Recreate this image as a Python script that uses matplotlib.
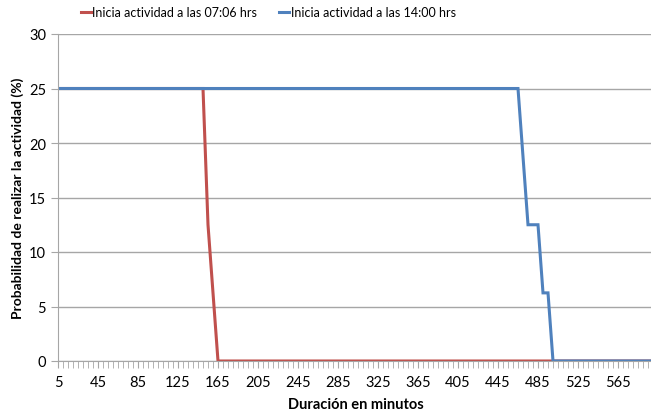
import numpy as np
import matplotlib.pyplot as plt

plt.rcParams['font.family'] = ['Lato', 'DejaVu Sans']

# duracion en minutos: 5, 10, ..., 600
minutos = list(range(5, 605, 5))

# cambios de la serie roja (07:06 hrs)
red_pts = {150: 25, 155: 12.5, 160: 6.25, 165: 0}
# cambios de la serie azul (14:00 hrs)
blue_pts = {465: 25, 470: 18.75, 475: 12.5, 480: 12.5, 485: 12.5,
            490: 6.25, 495: 6.25, 500: 0}

prob_0706 = []
prob_1400 = []
for m in minutos:
    if m < 150:
        prob_0706.append(25)
    elif m in red_pts:
        prob_0706.append(red_pts[m])
    else:
        prob_0706.append(0)
    if m < 465:
        prob_1400.append(25)
    elif m in blue_pts:
        prob_1400.append(blue_pts[m])
    else:
        prob_1400.append(0)

labels = ['Inicia actividad a las 07:06 hrs', 'Inicia actividad a las 14:00 hrs']
colors = ['#C0504D', '#4F81BD']

fig = plt.figure(figsize=(6.51, 4.14), dpi=100)
ax = fig.add_axes([58 / 651, 1 - 362 / 414, 595 / 651, 327 / 414])

x = np.arange(len(minutos))
ax.plot(x, prob_0706, color=colors[0], lw=2.2, label=labels[0], solid_joinstyle='miter')
ax.plot(x, prob_1400, color=colors[1], lw=2.2, label=labels[1], solid_joinstyle='miter')

ax.set_xlim(0, len(minutos) - 1)
ax.set_ylim(0, 30)
ax.set_yticks(range(0, 31, 5))
ax.grid(axis='y', color='#A6A6A6', lw=1)
ax.set_axisbelow(True)

ax.set_xticks(x, minor=True)
ax.set_xticks(x[::8])
ax.set_xticklabels([str(m) for m in minutos[::8]])
ax.tick_params(axis='x', which='both', length=5, color='#A6A6A6', labelsize=10.5, pad=5)
ax.tick_params(axis='y', length=5, color='#A6A6A6', labelsize=10.5)

for s in ['top', 'right']:
    ax.spines[s].set_visible(False)
for s in ['left', 'bottom']:
    ax.spines[s].set_color('#A6A6A6')

ax.set_xlabel('Duración en minutos', fontweight='bold', fontsize=10.5, labelpad=6)
ax.set_ylabel('Probabilidad de realizar la actividad (%)', fontweight='bold',
              fontsize=10, labelpad=4)

fig.legend(loc='upper center', bbox_to_anchor=(0.412, 1.01), ncol=2, frameon=False,
           fontsize=9, handlelength=0.8, handletextpad=0.1, columnspacing=1.8)

fig.savefig('out.png', dpi=100)
